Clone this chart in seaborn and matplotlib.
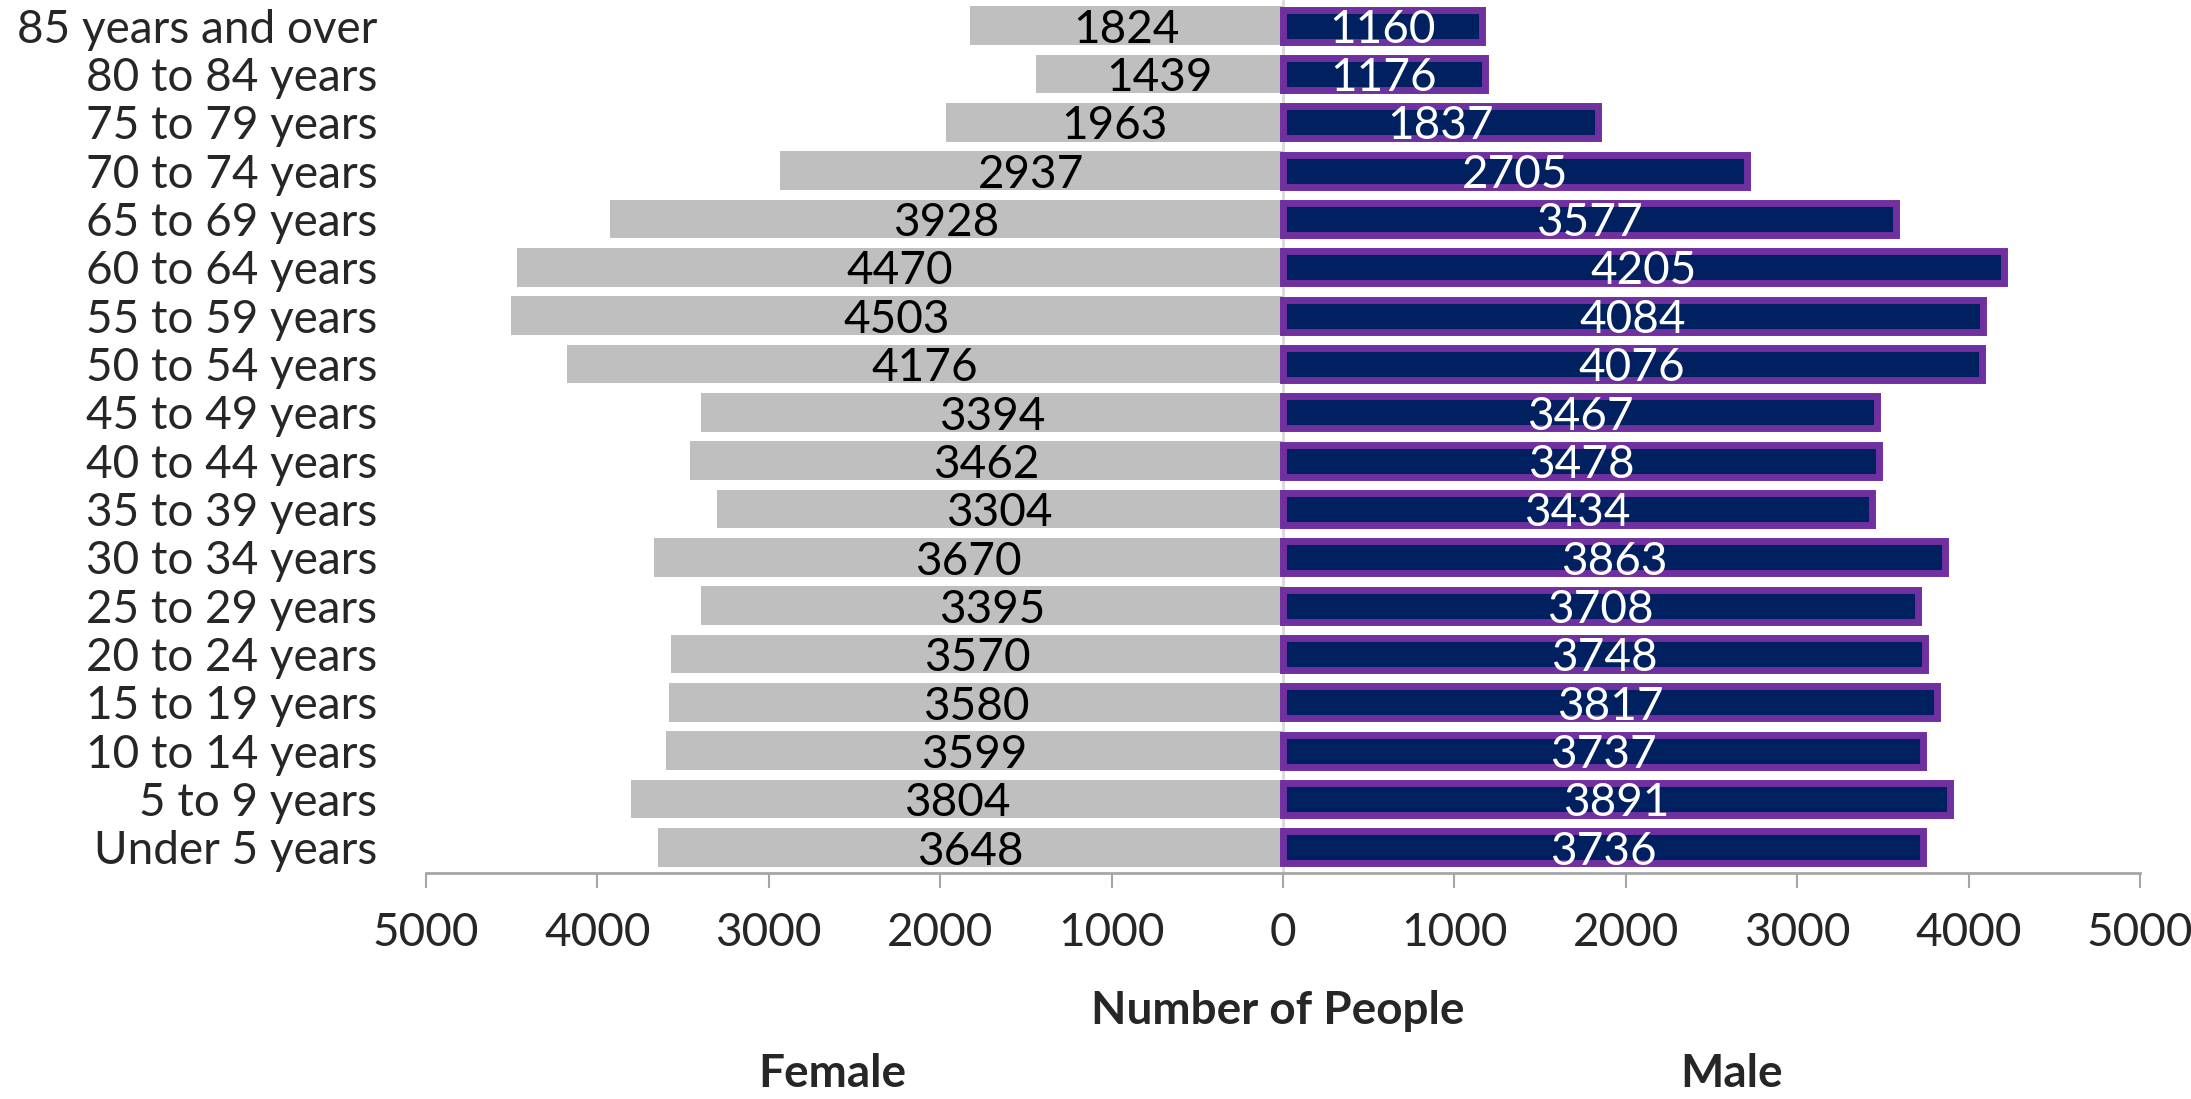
import matplotlib.pyplot as plt
import numpy as np
import pandas as pd
import seaborn as sns

sns.set_style("white")
plt.rcParams["font.family"] = ["Lato", "DejaVu Sans"]

ages = [
    "85 years and over", "80 to 84 years", "75 to 79 years", "70 to 74 years",
    "65 to 69 years", "60 to 64 years", "55 to 59 years", "50 to 54 years",
    "45 to 49 years", "40 to 44 years", "35 to 39 years", "30 to 34 years",
    "25 to 29 years", "20 to 24 years", "15 to 19 years", "10 to 14 years",
    "5 to 9 years", "Under 5 years",
]
female = [1824, 1439, 1963, 2937, 3928, 4470, 4503, 4176, 3394,
          3462, 3304, 3670, 3395, 3570, 3580, 3599, 3804, 3648]
male = [1160, 1176, 1837, 2705, 3577, 4205, 4084, 4076, 3467,
        3478, 3434, 3863, 3708, 3748, 3817, 3737, 3891, 3736]
xticks = [-5000, -4000, -3000, -2000, -1000, 0, 1000, 2000, 3000, 4000, 5000]

df = pd.DataFrame({"Age": ages, "Female": female, "Male": male})
df["FemaleNeg"] = -df["Female"]

fs = 33
fig = plt.figure(figsize=(21.91, 10.99), dpi=100)
ax = fig.add_axes([0.1944, 0.2056, 0.7823, 0.7944])

sns.barplot(data=df, y="Age", x="FemaleNeg", order=ages, color="#BFBFBF",
            width=0.8, saturation=1, ax=ax, edgecolor="none")
sns.barplot(data=df, y="Age", x="Male", order=ages, color="#002060",
            width=0.66, saturation=1, ax=ax, edgecolor="#7030A0", linewidth=5)

lab_f = ax.bar_label(ax.containers[0], labels=[str(v) for v in female],
                     label_type="center", fontsize=fs, color="black")
lab_m = ax.bar_label(ax.containers[1], labels=[str(v) for v in male],
                     label_type="center", fontsize=fs, color="white")
for t in lab_f + lab_m:
    t.xyann = (0, -3)

ax.axvline(0, color="#D9D9D9", lw=2, zorder=0.5)
ax.set_xlim(-5000, 5000)
ax.set_ylim(17.53, -0.53)
ax.set_xticks(xticks)
ax.set_xticklabels([str(abs(v)) for v in xticks])
ax.set_xlabel("")
ax.set_ylabel("")

for s in ["top", "right", "left"]:
    ax.spines[s].set_visible(False)
ax.spines["bottom"].set_color("#A6A6A6")
ax.spines["bottom"].set_linewidth(2)
ax.tick_params(axis="x", direction="out", length=11, width=1.5,
               color="#A6A6A6", labelsize=fs, pad=17, bottom=True)
ax.tick_params(axis="y", length=0, labelsize=fs, pad=35)

fig.text(0.583, 0.080, "Number of People", fontsize=fs, fontweight="bold",
         ha="center", va="center")
fig.text(0.380, 0.0227, "Female", fontsize=fs, fontweight="bold",
         ha="center", va="center")
fig.text(0.7905, 0.0227, "Male", fontsize=fs, fontweight="bold",
         ha="center", va="center")

fig.savefig("out.png", dpi=100)
